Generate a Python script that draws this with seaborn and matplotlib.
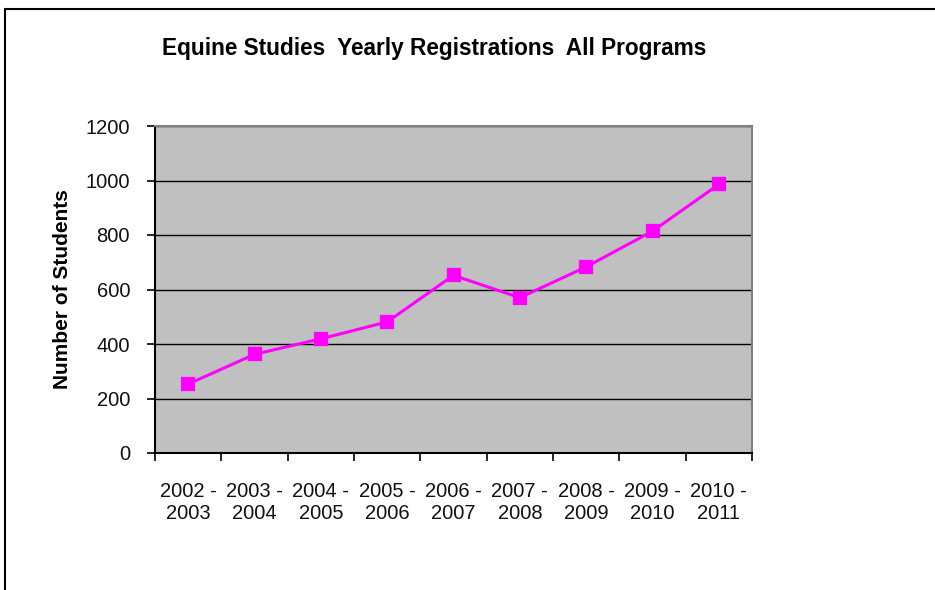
import matplotlib
matplotlib.use("Agg")
import matplotlib.pyplot as plt
import seaborn as sns
import pandas as pd
from matplotlib.lines import Line2D
from matplotlib.ticker import FixedLocator

years = ["2002 -\n2003", "2003 -\n2004", "2004 -\n2005", "2005 -\n2006", "2006 -\n2007",
         "2007 -\n2008", "2008 -\n2009", "2009 -\n2010", "2010 -\n2011"]
students = [253, 362, 419, 481, 652, 570, 683, 814, 986]
yticks = [0, 200, 400, 600, 800, 1000, 1200]

df = pd.DataFrame({"year": years, "students": students})

sns.set_theme(style="white")
plt.rcParams["font.family"] = ["Liberation Sans", "DejaVu Sans"]

fig = plt.figure(figsize=(9.35, 5.9), dpi=100)
ax = fig.add_axes([155/935, 1 - 453/590, (752-155)/935, (453-126)/590])
ax.set_facecolor("#C0C0C0")

sns.pointplot(data=df, x="year", y="students", ax=ax, color="#FF00FF",
              markers="s", linestyles="-", markersize=9, linewidth=2.2,
              errorbar=None)

ax.set_ylim(0, 1200)
ax.set_yticks(yticks)
ax.set_yticklabels([str(v) for v in yticks], fontsize=14.5, color="#111111")
ax.set_xlim(-0.5, len(years) - 0.5)
ax.set_xticks(range(len(years)))
ax.set_xticklabels(years, fontsize=14.5, color="#111111", linespacing=1.2)
ax.xaxis.set_minor_locator(FixedLocator([i - 0.5 for i in range(len(years) + 1)]))
ax.tick_params(axis="x", which="major", length=0, pad=21)
ax.tick_params(axis="x", which="minor", length=6, width=1.2, color="black", direction="out", bottom=True)
ax.tick_params(axis="y", which="major", length=6, width=1.2, color="black", direction="out", left=True, pad=12)

ax.grid(axis="y", color="black", linewidth=1)
ax.set_axisbelow(True)
for s in ["left", "bottom"]:
    ax.spines[s].set_color("black")
    ax.spines[s].set_linewidth(1.5)
for s in ["top", "right"]:
    ax.spines[s].set_color("#808080")
    ax.spines[s].set_linewidth(1.5)
    ax.spines[s].set_visible(True)

ax.set_xlabel("")
ax.set_ylabel("Number of Students", fontsize=15, fontweight="bold", color="black", labelpad=10)

fig.text(434/935, 1 - 48/590, "Equine Studies  Yearly Registrations  All Programs",
         ha="center", va="center", fontsize=16.3, fontweight="bold", color="black")

fig.add_artist(Line2D([5/935, 1], [1 - 9/590, 1 - 9/590], color="black", linewidth=1.5, transform=fig.transFigure))
fig.add_artist(Line2D([5/935, 5/935], [0, 1 - 9/590], color="black", linewidth=1.5, transform=fig.transFigure))

fig.savefig("out.png", dpi=100, facecolor="white")
